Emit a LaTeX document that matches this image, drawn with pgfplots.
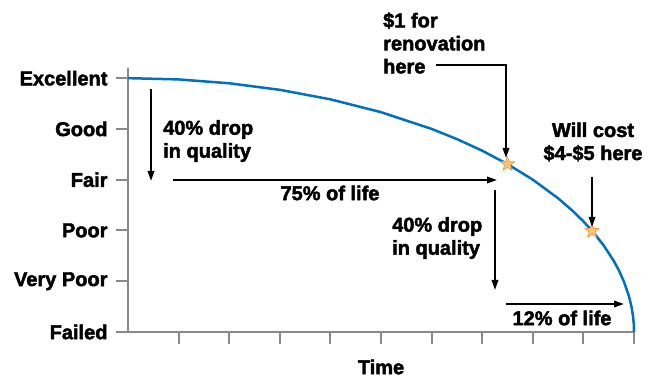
\documentclass[border=0pt]{standalone}
\usepackage{fontspec}
\setmainfont{Liberation Sans}[BoldFeatures={FakeBold=2.2}]
\usepackage{pgfplots}
\pgfplotsset{compat=1.18}
\usetikzlibrary{arrows.meta}
\definecolor{curve}{RGB}{0,112,192}
\definecolor{axgray}{RGB}{137,137,137}
\definecolor{starfill}{RGB}{250,196,120}
\definecolor{stardraw}{RGB}{240,150,60}
\pgfdeclareplotmark{fstar}{%
 \pgfpathmoveto{\pgfpointpolar{90}{\pgfplotmarksize}}%
 \pgfpathlineto{\pgfpointpolar{126}{0.42\pgfplotmarksize}}%
 \pgfpathlineto{\pgfpointpolar{162}{\pgfplotmarksize}}%
 \pgfpathlineto{\pgfpointpolar{198}{0.42\pgfplotmarksize}}%
 \pgfpathlineto{\pgfpointpolar{234}{\pgfplotmarksize}}%
 \pgfpathlineto{\pgfpointpolar{270}{0.42\pgfplotmarksize}}%
 \pgfpathlineto{\pgfpointpolar{306}{\pgfplotmarksize}}%
 \pgfpathlineto{\pgfpointpolar{342}{0.42\pgfplotmarksize}}%
 \pgfpathlineto{\pgfpointpolar{18}{\pgfplotmarksize}}%
 \pgfpathlineto{\pgfpointpolar{54}{0.42\pgfplotmarksize}}%
 \pgfpathclose
 \pgfusepathqfillstroke
}
\begin{document}
\begin{tikzpicture}[font=\fontsize{20}{23}\selectfont\bfseries]
\begin{axis}[
  at={(128pt,45pt)}, anchor=south west,
  scale only axis, width=506pt, height=264pt,
  xmin=0, xmax=10, ymin=0, ymax=5.2,
  axis lines=left, axis line style={-, axgray, line width=2pt},
  xtick={1,...,10}, xticklabels={},
  ytick={0,...,5}, yticklabels={Failed,Very Poor,Poor,Fair,Good,Excellent},
  tick align=outside, major tick length=12pt,
  tick style={axgray, line width=2pt},
  yticklabel style={font=\fontsize{20}{23}\selectfont\bfseries, xshift=-5pt},
  clip=false,
]
\addplot[curve, line width=2.5pt, no marks] coordinates {
(0,5) (1,4.975) (2,4.899) (3,4.770) (4,4.583) (5,4.330) (6,4.0) (6.5,3.800)
(7,3.571) (7.5,3.307) (8,3.0) (8.5,2.634) (8.8,2.375) (9,2.179) (9.2,1.960)
(9.4,1.706) (9.6,1.400) (9.7,1.216) (9.8,0.995) (9.9,0.705) (9.95,0.499)
(9.98,0.316) (9.995,0.158) (10,0)};
\addplot[only marks, mark=fstar, mark size=7.5pt, mark options={fill=starfill, draw=stardraw, line width=0.6pt}] coordinates {(7.5,3.307) (9.17,1.99)};
\end{axis}
\begin{scope}[x=1pt,y=-1pt,yshift=377pt, arr/.style={black, line width=1.8pt, -{Triangle[length=10pt,width=6.5pt]}}]
\draw[arr] (151,89) -- (151,181);
\draw[arr] (173,180) -- (497,180);
\draw[arr] (436,65) -- (506,65) -- (506,158);
\draw[arr] (592,177) -- (592,227);
\draw[arr] (495,190) -- (495,290);
\draw[arr] (506,304) -- (624,304);
\node[anchor=west, align=left, inner sep=0pt] at (163,141) {40\% drop\\in quality};
\node[inner sep=0pt] at (330,193) {75\% of life};
\node[anchor=west, align=left, inner sep=0pt] at (383,43) {\$1 for\\renovation\\here};
\node[align=center, inner sep=0pt] at (593,142) {Will cost\\\$4-\$5 here};
\node[anchor=west, align=left, inner sep=0pt] at (392,238) {40\% drop\\in quality};
\node[inner sep=0pt] at (562,318) {12\% of life};
\node[inner sep=0pt] at (381,367) {Time};
\end{scope}
\pgfresetboundingbox
\useasboundingbox (0,0) rectangle (655pt,377pt);
\end{tikzpicture}
\end{document}
